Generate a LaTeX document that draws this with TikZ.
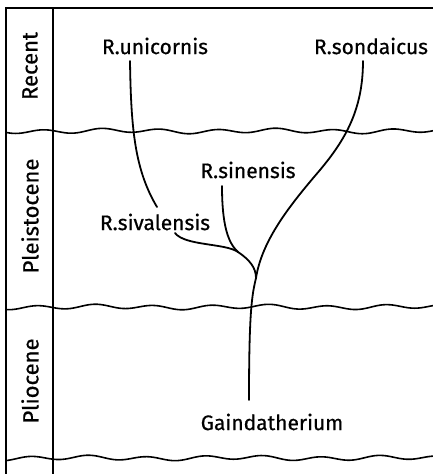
\documentclass[tikz,border=0pt]{standalone}
\usepackage{fontspec}
\setmainfont{Fira Sans}[FakeBold=0.6]
\begin{document}
\begin{tikzpicture}[x=1pt,y=-1pt,
  frame/.style={line width=1.6pt},
  wave/.style={line width=1.6pt},
  branch/.style={line width=1.8pt, line cap=round},
  taxon/.style={inner sep=0pt, font=\fontsize{21}{24}\selectfont},
  epoch/.style={inner sep=0pt, rotate=90, font=\fontsize{22}{24}\selectfont}]
\useasboundingbox (0,0) rectangle (433,474);
% frame
\draw[frame] (6,474) -- (6,8) -- (433,8);
\draw[frame] (53,8) -- (53,474);
% wavy boundaries
\foreach \yy/\ph in {131/0,307/40,458/80}{
  \draw[wave] plot[domain=6:433, samples=140, smooth] (\x, {\yy+2.0*sin(\x*6.2+\ph)+0.8*sin(\x*2.3+\ph)});
}
% epoch labels
\node[epoch] (recent) at (30,66) {Recent};
\node[epoch] (pleist) at (30,216) {Pleistocene};
\node[epoch] (plio) at (30,381) {Pliocene};
% taxa
\node[taxon] (uni) at (155,46) {R.unicornis};
\node[taxon] (son) at (371,46) {R.sondaicus};
\node[taxon] (sin) at (248,170) {R.sinensis};
\node[taxon] (siv) at (155,222) {R.sivalensis};
\node[taxon] (gai) at (272,422) {Gaindatherium};
% junctions
\coordinate (j1) at (238,252);
\coordinate (j2) at (256,278);
\coordinate (uend) at (157,207);
% branches
\draw[branch] (130,61) .. controls (131,130) and (135,170) .. (uend);
\draw[branch] (175,233) .. controls (185,246) and (225,243) .. (j1);
\draw[branch] (222,186) .. controls (222,225) and (228,243) .. (j1);
\draw[branch] (j1) .. controls (250,260) and (256,268) .. (j2);
\draw[branch] (363,61) .. controls (363,110) and (345,140) .. (320,170) .. controls (290,205) and (262,240) .. (j2);
\draw[branch] (j2) .. controls (252,295) and (249,310) .. (249,400);
\end{tikzpicture}
\end{document}
